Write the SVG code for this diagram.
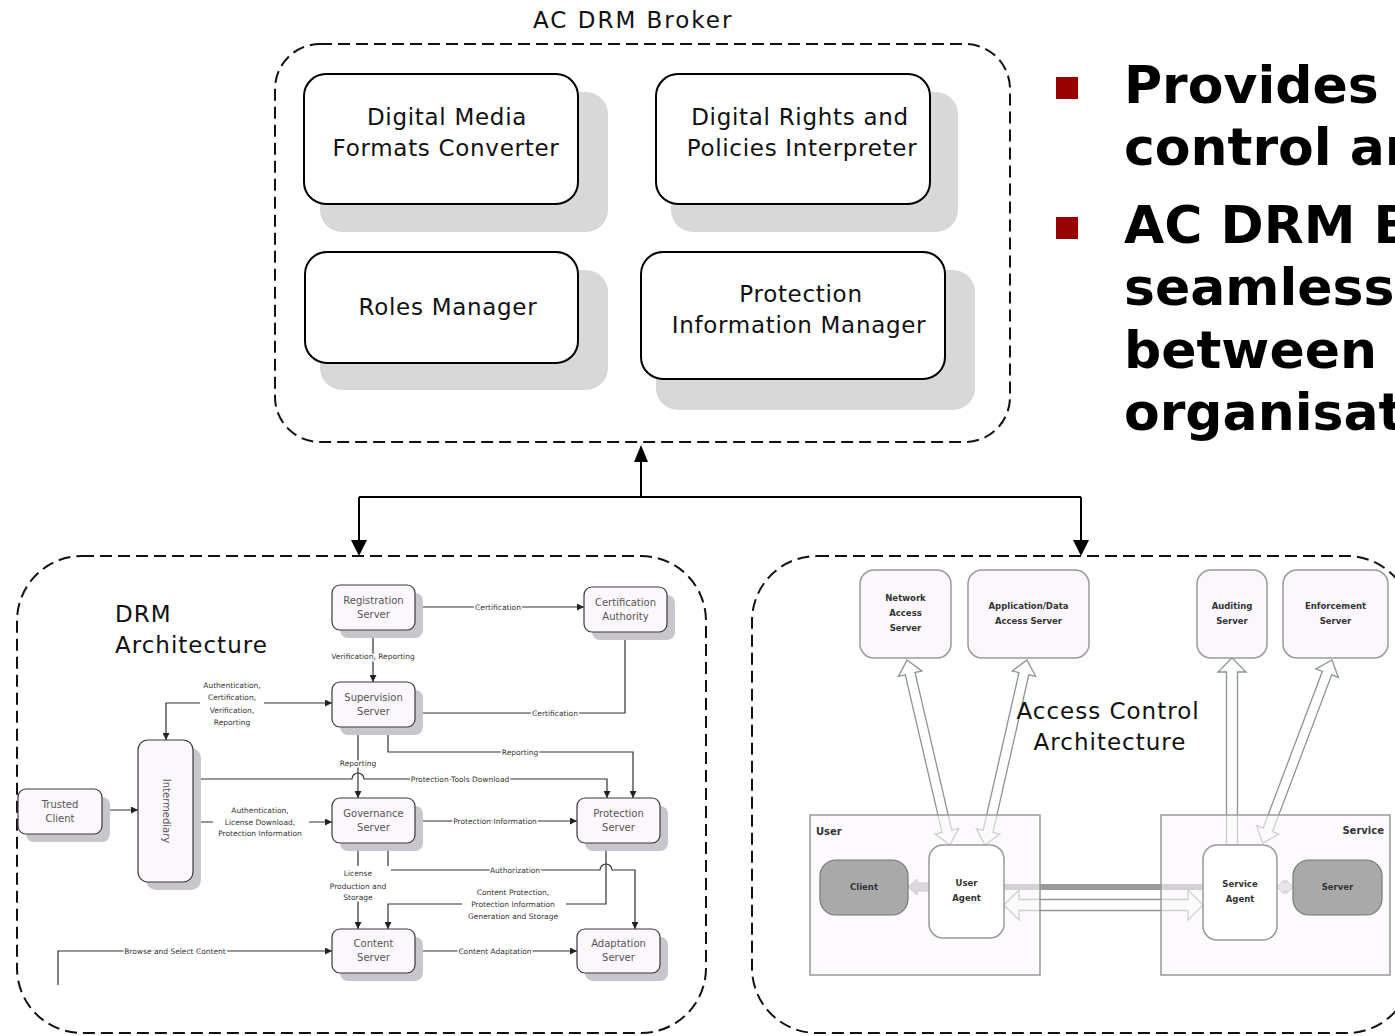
<svg xmlns="http://www.w3.org/2000/svg" width="1395" height="1036" viewBox="0 0 1395 1036">
<style>
.dash{fill:none;stroke:#111;stroke-width:2;stroke-dasharray:12 6}
.bbox{fill:#fff;stroke:#000;stroke-width:2}
.bsh{fill:#d8d8d8}
.bt{font-family:"DejaVu Sans",sans-serif;font-size:23px;letter-spacing:0.7px;text-anchor:middle;fill:#111}
.ht{font-family:"DejaVu Sans",sans-serif;font-size:23px;letter-spacing:1px;fill:#111}
.dn{fill:#fcf7fc;stroke:#3a3a3a;stroke-width:1.2}
.dsh{fill:#c9c5cc}
.nt{font-family:"DejaVu Sans",sans-serif;font-size:10px;fill:#555;text-anchor:middle}
.el{font-family:"DejaVu Sans",sans-serif;font-size:7.5px;fill:#333;text-anchor:middle;stroke:#fff;stroke-width:3;paint-order:stroke}
.cl{fill:none;stroke:#333;stroke-width:1.2}
.an{fill:#fcf7fc;stroke:#9a9a9a;stroke-width:1.5}
.at{font-family:"DejaVu Sans",sans-serif;font-weight:bold;font-size:8.5px;fill:#333;text-anchor:middle}
.ha{fill:none;stroke:#8a978a;stroke-width:1.3}
.bl{font-family:"DejaVu Sans",sans-serif;font-weight:bold;font-size:52px;fill:#000}
.bk{fill:#000}
</style>
<defs>
<marker id="ah" viewBox="0 0 8 8" refX="8" refY="4" markerWidth="7" markerHeight="7" markerUnits="userSpaceOnUse" orient="auto-start-reverse"><path d="M0,0 L8,4 L0,8 z" fill="#222"/></marker>
</defs>
<rect width="1395" height="1036" fill="#fff"/>

<!-- Containers -->
<g id="broker">
<text class="ht" x="533" y="28" style="letter-spacing:2px">AC DRM Broker</text>
<rect class="dash" x="275" y="44" width="735" height="398" rx="45"/>
</g>
<g id="drm-arch">
<rect class="dash" x="17" y="556" width="689" height="477" rx="65"/>
<text class="ht" x="115" y="622">DRM</text>
<text class="ht" x="115" y="653">Architecture</text>
</g>
<g id="ac-arch">
<rect class="dash" x="752" y="556" width="660" height="477" rx="65"/>
</g>

<!-- Broker nodes -->
<g id="dmfc">
<rect class="bsh" x="320" y="92" width="288" height="140" rx="22"/>
<rect class="bbox" x="304" y="74" width="274" height="130" rx="22"/>
<text class="bt" x="447" y="125">Digital Media</text>
<text class="bt" x="446" y="156">Formats Converter</text>
</g>
<g id="drpi">
<rect class="bsh" x="671" y="92" width="287" height="140" rx="22"/>
<rect class="bbox" x="656" y="74" width="274" height="130" rx="22"/>
<text class="bt" x="800" y="125">Digital Rights and</text>
<text class="bt" x="802" y="156">Policies Interpreter</text>
</g>
<g id="roles">
<rect class="bsh" x="320" y="270" width="288" height="120" rx="22"/>
<rect class="bbox" x="305" y="252" width="273" height="111" rx="22"/>
<text class="bt" x="448" y="315">Roles Manager</text>
</g>
<g id="pim">
<rect class="bsh" x="656" y="270" width="319" height="140" rx="22"/>
<rect class="bbox" x="641" y="252" width="304" height="127" rx="22"/>
<text class="bt" x="801" y="302">Protection</text>
<text class="bt" x="799" y="333">Information Manager</text>
</g>

<!-- Connectors -->
<g id="connectors">
<path d="M641,497 V460 M359,497 H1081 M359,497 V542 M1081,497 V542" fill="none" stroke="#000" stroke-width="2"/>
<polygon class="bk" points="641,445 634,462 648,462"/>
<polygon class="bk" points="359,556 351,540 367,540"/>
<polygon class="bk" points="1081,556 1073,540 1089,540"/>

<g marker-start="url(#ah)" marker-end="url(#ah)">
<path class="cl" d="M415,607 H584"/>
<path class="cl" d="M373,630 V682"/>
<path class="cl" d="M625,632 V713 H415"/>
<path class="cl" d="M166,740 V703 H332"/>
<path class="cl" d="M358,727 V798"/>
<path class="cl" d="M388,727 V752 H633 V798"/>
<path class="cl" d="M193,779 H352 a6,6 0 0 1 12,0 H607 V798"/>
<path class="cl" d="M102,810 H138"/>
<path class="cl" d="M193,822 H332"/>
<path class="cl" d="M415,821 H577"/>
<path class="cl" d="M358,843 V929"/>
<path class="cl" d="M388,843 V870 H600 a6,6 0 0 1 12,0 H635 V929"/>
<path class="cl" d="M606,843 V904 H388 V929"/>
<path class="cl" d="M415,951 H577"/>
</g>
<path class="cl" d="M58,985 V951 H332" marker-end="url(#ah)"/>

<text class="el" x="498" y="610">Certification</text>
<text class="el" x="373" y="659">Verification, Reporting</text>
<text class="el" x="555" y="716">Certification</text>
<rect x="200" y="679" width="64" height="47" fill="#fff"/>
<text class="el" x="232" y="688">Authentication,</text>
<text class="el" x="232" y="700">Certification,</text>
<text class="el" x="232" y="713">Verification,</text>
<text class="el" x="232" y="725">Reporting</text>
<text class="el" x="358" y="766">Reporting</text>
<text class="el" x="520" y="755">Reporting</text>
<text class="el" x="460" y="782">Protection Tools Download</text>
<rect x="213" y="803" width="96" height="34" fill="#fff"/>
<text class="el" x="260" y="813">Authentication,</text>
<text class="el" x="260" y="825">License Download,</text>
<text class="el" x="260" y="836">Protection Information</text>
<text class="el" x="495" y="824">Protection Information</text>
<rect x="325" y="866" width="66" height="35" fill="#fff"/>
<text class="el" x="358" y="876">License</text>
<text class="el" x="358" y="889">Production and</text>
<text class="el" x="358" y="900">Storage</text>
<text class="el" x="515" y="873">Authorization</text>
<rect x="462" y="885" width="104" height="35" fill="#fff"/>
<text class="el" x="513" y="895">Content Protection,</text>
<text class="el" x="513" y="907">Protection Information</text>
<text class="el" x="513" y="919">Generation and Storage</text>
<text class="el" x="495" y="954">Content Adaptation</text>
<text class="el" x="175" y="954">Browse and Select Content</text>

<!-- Access control arrows -->
<rect x="1004" y="884" width="199" height="6" fill="#9a9a9a"/>
<polygon class="ha" transform="translate(1004,905)" points="0,0 15,-15 15,-5.5 184,-5.5 184,-15 199,0 184,15 184,5.5 15,5.5 15,15"/>
<polygon class="ha" transform="translate(907,660) rotate(76.9)" points="0,0 14,-12 14,-5 175.9,-5 175.9,-12 189.9,0 175.9,12 175.9,5 14,5 14,12"/>
<polygon class="ha" transform="translate(1027,660) rotate(102.8)" points="0,0 14,-12 14,-5 175.7,-5 175.7,-12 189.7,0 175.7,12 175.7,5 14,5 14,12"/>
<polygon class="ha" transform="translate(1232,658) rotate(90)" points="0,0 14,-14 14,-5.5 187,-5.5 187,5.5 14,5.5 14,14"/>
<polygon class="ha" transform="translate(1332,660) rotate(110.7)" points="0,0 14,-12 14,-5 181.6,-5 181.6,-12 195.6,0 181.6,12 181.6,5 14,5 14,12"/>
<polygon points="908,887 917,879 917,883 929,883 929,891 917,891 917,895" fill="#aaa" stroke="#888" stroke-width="1"/>
<polygon points="1277,887 1284,880 1284,883 1286,883 1286,880 1293,887 1286,894 1286,891 1284,891 1284,894" fill="#ccc" stroke="#888" stroke-width="1"/>
</g>

<!-- DRM nodes -->
<g id="registration-server">
<rect class="dsh" x="340" y="593" width="83" height="45" rx="8"/>
<rect class="dn" x="332" y="585" width="83" height="45" rx="8"/>
<text class="nt" x="373.5" y="604">Registration</text><text class="nt" x="373.5" y="618">Server</text>
</g>
<g id="certification-authority">
<rect class="dsh" x="592" y="595" width="83" height="45" rx="8"/>
<rect class="dn" x="584" y="587" width="83" height="45" rx="8"/>
<text class="nt" x="625.5" y="606">Certification</text><text class="nt" x="625.5" y="620">Authority</text>
</g>
<g id="supervision-server">
<rect class="dsh" x="340" y="690" width="83" height="45" rx="8"/>
<rect class="dn" x="332" y="682" width="83" height="45" rx="8"/>
<text class="nt" x="373.5" y="701">Supervision</text><text class="nt" x="373.5" y="715">Server</text>
</g>
<g id="intermediary">
<rect class="dsh" x="146" y="748" width="55" height="142" rx="10"/>
<rect class="dn" x="138" y="740" width="55" height="142" rx="10"/>
<text class="nt" x="0" y="0" transform="translate(166,811) rotate(90)" dominant-baseline="middle">Intermediary</text>
</g>
<g id="trusted-client">
<rect class="dsh" x="26" y="797" width="84" height="45" rx="8"/>
<rect class="dn" x="18" y="789" width="84" height="45" rx="8"/>
<text class="nt" x="60" y="808">Trusted</text><text class="nt" x="60" y="822">Client</text>
</g>
<g id="governance-server">
<rect class="dsh" x="340" y="806" width="83" height="45" rx="8"/>
<rect class="dn" x="332" y="798" width="83" height="45" rx="8"/>
<text class="nt" x="373.5" y="817">Governance</text><text class="nt" x="373.5" y="831">Server</text>
</g>
<g id="protection-server">
<rect class="dsh" x="585" y="806" width="83" height="45" rx="8"/>
<rect class="dn" x="577" y="798" width="83" height="45" rx="8"/>
<text class="nt" x="618.5" y="817">Protection</text><text class="nt" x="618.5" y="831">Server</text>
</g>
<g id="content-server">
<rect class="dsh" x="340" y="937" width="83" height="44" rx="8"/>
<rect class="dn" x="332" y="929" width="83" height="44" rx="8"/>
<text class="nt" x="373.5" y="947">Content</text><text class="nt" x="373.5" y="961">Server</text>
</g>
<g id="adaptation-server">
<rect class="dsh" x="585" y="937" width="83" height="44" rx="8"/>
<rect class="dn" x="577" y="929" width="83" height="44" rx="8"/>
<text class="nt" x="618.5" y="947">Adaptation</text><text class="nt" x="618.5" y="961">Server</text>
</g>

<!-- Access control nodes -->
<g id="user">
<rect x="810" y="815" width="230" height="160" fill="#fcf7fc" fill-opacity="0.6" stroke="#999" stroke-width="1.5"/>
<text class="at" x="816" y="835" style="text-anchor:start;font-size:10px">User</text>
</g>
<g id="service">
<rect x="1161" y="815" width="229" height="160" fill="#fcf7fc" fill-opacity="0.6" stroke="#999" stroke-width="1.5"/>
<text class="at" x="1384" y="834" style="text-anchor:end;font-size:10px">Service</text>
</g>
<g id="network-access-server">
<rect class="an" x="860" y="570" width="91" height="88" rx="14"/>
<text class="at" x="905.5" y="601">Network</text><text class="at" x="905.5" y="616">Access</text><text class="at" x="905.5" y="631">Server</text>
</g>
<g id="application-data-access-server">
<rect class="an" x="968" y="570" width="121" height="88" rx="14"/>
<text class="at" x="1028.5" y="609">Application/Data</text><text class="at" x="1028.5" y="624">Access Server</text>
</g>
<g id="auditing-server">
<rect class="an" x="1197" y="570" width="70" height="88" rx="14"/>
<text class="at" x="1232" y="609">Auditing</text><text class="at" x="1232" y="624">Server</text>
</g>
<g id="enforcement-server">
<rect class="an" x="1283" y="570" width="105" height="88" rx="14"/>
<text class="at" x="1335.5" y="609">Enforcement</text><text class="at" x="1335.5" y="624">Server</text>
</g>
<g id="client">
<rect x="820" y="860" width="88" height="55" rx="16" fill="#a9a9a9" stroke="#777" stroke-width="1.2"/>
<text class="at" x="864" y="890">Client</text>
</g>
<g id="user-agent">
<rect class="an" x="929" y="845" width="75" height="93" rx="14" style="fill:#fff"/>
<text class="at" x="966.5" y="886">User</text><text class="at" x="966.5" y="901">Agent</text>
</g>
<g id="service-agent">
<rect class="an" x="1203" y="845" width="74" height="95" rx="14" style="fill:#fff"/>
<text class="at" x="1240" y="887">Service</text><text class="at" x="1240" y="902">Agent</text>
</g>
<g id="server">
<rect x="1293" y="860" width="89" height="55" rx="16" fill="#a9a9a9" stroke="#777" stroke-width="1.2"/>
<text class="at" x="1337.5" y="890">Server</text>
</g>
<g id="ac-title">
<text class="ht" x="1108" y="719" text-anchor="middle">Access Control</text>
<text class="ht" x="1110" y="750" text-anchor="middle">Architecture</text>
</g>

<!-- Bullets -->
<g id="bullets">
<rect x="1056" y="77" width="22" height="22" fill="#990000"/>
<rect x="1056" y="217" width="22" height="22" fill="#990000"/>
<text class="bl" x="1124" y="103">Provides</text>
<text class="bl" x="1124" y="165">control an</text>
<text class="bl" x="1124" y="243">AC DRM B</text>
<text class="bl" x="1124" y="305">seamless</text>
<text class="bl" x="1124" y="368">between</text>
<text class="bl" x="1124" y="430">organisat</text>
</g>
</svg>
